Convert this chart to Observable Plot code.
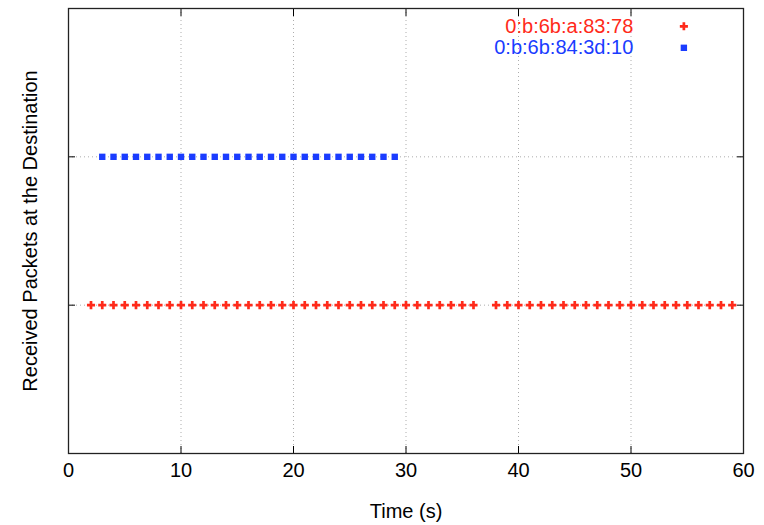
<!DOCTYPE html>
<html>
<head>
<meta charset="utf-8">
<script src="https://cdn.jsdelivr.net/npm/d3@7"></script>
<script src="https://cdn.jsdelivr.net/npm/@observablehq/plot@0.6"></script>
<style>
  body { margin: 0; background: white; }
  svg { font-family: "Liberation Sans", Arial, sans-serif; }
</style>
</head>
<body>
<div id="chart"></div>
<script>
// packets received per node (time in s)
const redTimes = [2,3,4,5,6,7,8,9,10,11,12,13,14,15,16,17,18,19,20,21,22,23,24,25,26,27,28,29,30,31,32,33,34,35,36,
  38,39,40,41,42,43,44,45,46,47,48,49,50,51,52,53,54,55,56,57,58,59]
const blueTimes = [3,4,5,6,7,8,9,10,11,12,13,14,15,16,17,18,19,20,21,22,23,24,25,26,27,28,29]
const seriesNames = ['0:b:6b:a:83:78', '0:b:6b:84:3d:10']
const seriesColors = ['#ff2a1a', '#1a3cff']
const seriesLevel = [1, 2]
const xTicks = [0, 10, 20, 30, 40, 50, 60]
const yTicks = [1, 2]

const red = redTimes.map(t => ({t, y: seriesLevel[0]}))
const blue = blueTimes.map(t => ({t, y: seriesLevel[1]}))

const chart = Plot.plot({
  width: 764,
  height: 525,
  marginLeft: 68,
  marginRight: 21,
  marginTop: 8,
  marginBottom: 72,
  x: {domain: [0, 60], ticks: xTicks},
  y: {domain: [0, 3], ticks: yTicks},
  marks: [
    Plot.gridX(xTicks.slice(1, -1), {stroke: '#999', strokeDasharray: '1,3', strokeOpacity: 0.8}),
    Plot.gridY(yTicks, {stroke: '#999', strokeDasharray: '1,3', strokeOpacity: 0.8}),
    Plot.axisX({ticks: xTicks, tickSize: -7, tickPadding: 16, fontSize: 20, label: 'Time (s)', labelAnchor: 'center', labelArrow: 'none', labelOffset: 64}),
    Plot.axisX({anchor: 'top', ticks: xTicks, tickSize: -7, tickFormat: () => '', label: null}),
    Plot.axisY({ticks: yTicks, tickSize: -7, tickFormat: () => '', label: 'Received Packets at the Destination', labelAnchor: 'center', labelArrow: 'none', labelOffset: 46, fontSize: 20}),
    Plot.axisY({anchor: 'right', ticks: yTicks, tickSize: -7, tickFormat: () => '', label: null}),
    Plot.frame({stroke: '#222', strokeWidth: 1.3}),
    Plot.dot(red, {x: 't', y: 'y', symbol: 'cross', r: 3.4, fill: seriesColors[0]}),
    Plot.dot(blue, {x: 't', y: 'y', symbol: 'square', r: 3.6, fill: seriesColors[1]}),
    Plot.text(seriesNames, {x: 50.2, y: (d, i) => [2.88, 2.735][i], text: d => d, textAnchor: 'end', fill: (d, i) => seriesColors[i], fontSize: 20}),
    Plot.dot([0], {x: 54.7, y: 2.88, symbol: 'cross', r: 3.4, fill: seriesColors[0]}),
    Plot.dot([0], {x: 54.7, y: 2.735, symbol: 'square', r: 3.6, fill: seriesColors[1]})
  ]
})
d3.select('#chart').append(() => chart)
</script>
</body>
</html>
